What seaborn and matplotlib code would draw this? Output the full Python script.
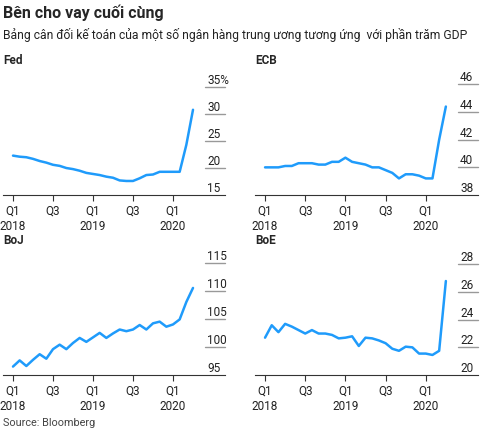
import matplotlib
matplotlib.use("Agg")
import matplotlib.pyplot as plt
import seaborn as sns
import pandas as pd
import numpy as np

sns.set_style("white")
plt.rcParams['font.family'] = ['Roboto', 'DejaVu Sans']

months = list(range(28))
fed = [22.3, 22.1, 22.0, 21.7, 21.3, 21.0, 20.6, 20.4, 20.0, 19.8, 19.5, 19.1, 18.9, 18.7,
       18.4, 18.2, 17.7, 17.6, 17.6, 18.1, 18.7, 18.8, 19.3, 19.3, 19.3, 19.3, 24.3, 30.8]
ecb = [40.0, 40.0, 40.0, 40.1, 40.1, 40.3, 40.3, 40.3, 40.2, 40.2, 40.4, 40.4, 40.7, 40.4,
       40.3, 40.2, 40.0, 40.0, 39.8, 39.6, 39.2, 39.5, 39.5, 39.4, 39.2, 39.2, 42.0, 44.4]
boj = [96.5, 97.6, 96.6, 97.7, 98.7, 97.9, 99.6, 100.4, 99.6, 100.7, 101.6, 100.9, 101.7, 102.5,
       101.6, 102.4, 103.1, 102.8, 103.1, 103.9, 103.1, 104.2, 104.5, 103.6, 104.0, 104.9, 108.0, 110.5]
boe = [22.7, 23.6, 23.1, 23.7, 23.5, 23.25, 23.0, 23.25, 23.0, 23.0, 22.9, 22.65, 22.7, 22.8,
       22.1, 22.7, 22.65, 22.5, 22.3, 21.9, 21.75, 22.05, 22.0, 21.55, 21.55, 21.45, 21.75, 26.8]

xtick_pos = [0, 6, 12, 18, 24]
xtick_labels = ["Q1\n2018", "Q3", "Q1\n2019", "Q3", "Q1\n2020"]

panels = [
    ("Fed", fed, [15, 20, 25, 30, 35], ["15", "20", "25", "30", "35%"], 15, 37.8,
     [3/480, 1-195/428, 222/480, 123/428]),
    ("ECB", ecb, [38, 40, 42, 44, 46], ["38", "40", "42", "44", "46"], 38, 46.9,
     [255/480, 1-195/428, 223/480, 123/428]),
    ("BoJ", boj, [95, 100, 105, 110, 115], ["95", "100", "105", "110", "115"], 95, 116.9,
     [3/480, 1-375/428, 222/480, 123/428]),
    ("BoE", boe, [20, 22, 24, 26, 28], ["20", "22", "24", "26", "28"], 20, 28.9,
     [255/480, 1-375/428, 223/480, 123/428]),
]

fig = plt.figure(figsize=(4.8, 4.28), dpi=100)
fig.text(0.006, 0.99, "Bên cho vay cuối cùng", fontsize=11.5, fontweight="bold", va="top")
fig.text(0.006, 0.935, "Bảng cân đối kế toán của một số ngân hàng trung ương tương ứng  với phần trăm GDP",
         fontsize=8.7, va="top", color="#222222")
fig.text(0.006, 0.0, "Source: Bloomberg", fontsize=7.8, va="bottom", color="#444444")

for name, vals, yt, ytl, ylo, yhi, pos in panels:
    ax = fig.add_axes(pos)
    df = pd.DataFrame({"m": months, "v": vals})
    sns.lineplot(data=df, x="m", y="v", ax=ax, color="#1f9bfb", linewidth=1.8)
    ax.set_xlim(-1.5, 31.8)
    ax.set_ylim(ylo, yhi)
    ax.set_xlabel(""); ax.set_ylabel("")
    for s in ["top", "right", "left"]:
        ax.spines[s].set_visible(False)
    ax.spines["bottom"].set_color("#333333")
    ax.spines["bottom"].set_linewidth(0.8)
    ax.set_yticks([])
    ax.set_xticks(xtick_pos)
    ax.set_xticklabels(xtick_labels, fontsize=8.5, color="#222222")
    ax.tick_params(axis="x", length=4, width=0.8, color="#333333", pad=3, bottom=True)
    tr = ax.get_yaxis_transform()
    for v, lab in zip(yt, ytl):
        if v != ylo:
            ax.plot([0.91, 1.0], [v, v], transform=tr, color="#999999", lw=1.0, clip_on=False)
        ax.text(0.92, v, lab, transform=tr, fontsize=8.5, va="bottom", ha="left", color="#222222")
    ax.text(0.0, 1.04, name, transform=ax.transAxes, fontsize=8.5, fontweight="bold", va="bottom")

fig.savefig("out.png", dpi=100)
